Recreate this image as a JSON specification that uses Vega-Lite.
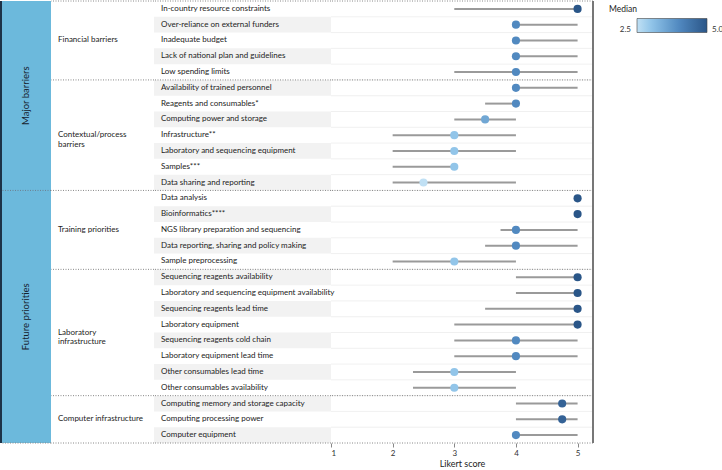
{
  "$schema": "https://vega.github.io/schema/vega-lite/v6.json",
  "padding": {"left": 0, "top": 0, "right": 0, "bottom": 1},
  "bounds": "flush",
  "spacing": 0,
  "config": {"view": {"stroke": null}, "font": "Lato", "text": {"font": "Lato"}},
  "datasets": {
    "items": [
      {"section": "Major barriers", "group": "Financial barriers", "item": "In-country resource constraints", "low": 3, "median": 5, "high": 5},
      {"section": "Major barriers", "group": "Financial barriers", "item": "Over-reliance on external funders", "low": 4, "median": 4, "high": 5},
      {"section": "Major barriers", "group": "Financial barriers", "item": "Inadequate budget", "low": 4, "median": 4, "high": 5},
      {"section": "Major barriers", "group": "Financial barriers", "item": "Lack of national plan and guidelines", "low": 4, "median": 4, "high": 5},
      {"section": "Major barriers", "group": "Financial barriers", "item": "Low spending limits", "low": 3, "median": 4, "high": 5},
      {"section": "Major barriers", "group": "Contextual/process barriers", "item": "Availability of trained personnel", "low": 4, "median": 4, "high": 5},
      {"section": "Major barriers", "group": "Contextual/process barriers", "item": "Reagents and consumables*", "low": 3.5, "median": 4, "high": 4},
      {"section": "Major barriers", "group": "Contextual/process barriers", "item": "Computing power and storage", "low": 3, "median": 3.5, "high": 4},
      {"section": "Major barriers", "group": "Contextual/process barriers", "item": "Infrastructure**", "low": 2, "median": 3, "high": 4},
      {"section": "Major barriers", "group": "Contextual/process barriers", "item": "Laboratory and sequencing equipment", "low": 2, "median": 3, "high": 4},
      {"section": "Major barriers", "group": "Contextual/process barriers", "item": "Samples***", "low": 2, "median": 3, "high": 3},
      {"section": "Major barriers", "group": "Contextual/process barriers", "item": "Data sharing and reporting", "low": 2, "median": 2.5, "high": 4},
      {"section": "Future priorities", "group": "Training priorities", "item": "Data analysis", "low": 5, "median": 5, "high": 5},
      {"section": "Future priorities", "group": "Training priorities", "item": "Bioinformatics****", "low": 5, "median": 5, "high": 5},
      {"section": "Future priorities", "group": "Training priorities", "item": "NGS library preparation and sequencing", "low": 3.75, "median": 4, "high": 5},
      {"section": "Future priorities", "group": "Training priorities", "item": "Data reporting, sharing and policy making", "low": 3.5, "median": 4, "high": 5},
      {"section": "Future priorities", "group": "Training priorities", "item": "Sample preprocessing", "low": 2, "median": 3, "high": 4},
      {"section": "Future priorities", "group": "Laboratory infrastructure", "item": "Sequencing reagents availability", "low": 4, "median": 5, "high": 5},
      {"section": "Future priorities", "group": "Laboratory infrastructure", "item": "Laboratory and sequencing equipment availability", "low": 4, "median": 5, "high": 5},
      {"section": "Future priorities", "group": "Laboratory infrastructure", "item": "Sequencing reagents lead time", "low": 3.5, "median": 5, "high": 5},
      {"section": "Future priorities", "group": "Laboratory infrastructure", "item": "Laboratory equipment", "low": 3, "median": 5, "high": 5},
      {"section": "Future priorities", "group": "Laboratory infrastructure", "item": "Sequencing reagents cold chain", "low": 3, "median": 4, "high": 5},
      {"section": "Future priorities", "group": "Laboratory infrastructure", "item": "Laboratory equipment lead time", "low": 3, "median": 4, "high": 5},
      {"section": "Future priorities", "group": "Laboratory infrastructure", "item": "Other consumables lead time", "low": 2.33, "median": 3, "high": 4},
      {"section": "Future priorities", "group": "Laboratory infrastructure", "item": "Other consumables availability", "low": 2.33, "median": 3, "high": 4},
      {"section": "Future priorities", "group": "Computer infrastructure", "item": "Computing memory and storage capacity", "low": 4, "median": 4.75, "high": 5},
      {"section": "Future priorities", "group": "Computer infrastructure", "item": "Computing processing power", "low": 4, "median": 4.75, "high": 5},
      {"section": "Future priorities", "group": "Computer infrastructure", "item": "Computer equipment", "low": 4, "median": 4, "high": 5}
    ],
    "labels": [
      {"level": "section", "label": "Major barriers", "anchor": "Reagents and consumables*", "rows": 12},
      {"level": "section", "label": "Future priorities", "anchor": "Laboratory equipment", "rows": 16},
      {"level": "group", "label": "Financial barriers", "anchor": "Inadequate budget", "rows": 5},
      {"level": "group", "label": "Contextual/process\nbarriers", "anchor": "Infrastructure**", "rows": 7},
      {"level": "group", "label": "Training priorities", "anchor": "NGS library preparation and sequencing", "rows": 5},
      {"level": "group", "label": "Laboratory\ninfrastructure", "anchor": "Sequencing reagents cold chain", "rows": 8},
      {"level": "group", "label": "Computer infrastructure", "anchor": "Computing processing power", "rows": 3}
    ]
  },
  "hconcat": [
    {
      "width": 50,
      "height": 442,
      "view": {"fill": "#6cb9dc", "stroke": null},
      "data": {"name": "items"},
      "layer": [
        {
          "mark": {"type": "rule", "color": "#1d3247", "strokeWidth": 2},
          "encoding": {"x": {"value": 0}}
        },
        {
          "transform": [
            {"window": [{"op": "row_number", "as": "k"}], "groupby": ["section"]},
            {"filter": "datum.k == 1 && datum.section != 'Major barriers'"}
          ],
          "mark": {"type": "rule", "color": "#6d7f8f", "strokeDash": [1, 1.5], "strokeWidth": 1},
          "encoding": {
            "y": {"field": "item", "type": "nominal", "bandPosition": 0, "axis": null, "scale": {"type": "band", "paddingInner": 0, "paddingOuter": 0, "domain": ["In-country resource constraints","Over-reliance on external funders","Inadequate budget","Lack of national plan and guidelines","Low spending limits","Availability of trained personnel","Reagents and consumables*","Computing power and storage","Infrastructure**","Laboratory and sequencing equipment","Samples***","Data sharing and reporting","Data analysis","Bioinformatics****","NGS library preparation and sequencing","Data reporting, sharing and policy making","Sample preprocessing","Sequencing reagents availability","Laboratory and sequencing equipment availability","Sequencing reagents lead time","Laboratory equipment","Sequencing reagents cold chain","Laboratory equipment lead time","Other consumables lead time","Other consumables availability","Computing memory and storage capacity","Computing processing power","Computer equipment"]}}
          }
        },
        {
          "transform": [
            {"window": [{"op": "row_number", "as": "k"}]},
            {"joinaggregate": [{"op": "count", "as": "n"}]},
            {"filter": "datum.k == datum.n"}
          ],
          "mark": {"type": "rule", "color": "#888888", "strokeDash": [1, 1.5], "strokeWidth": 1},
          "encoding": {"y": {"field": "item", "type": "nominal", "bandPosition": 1}}
        },
        {
          "data": {"name": "labels"},
          "transform": [{"filter": "datum.level == 'section'"}],
          "mark": {"type": "text", "angle": 270, "fontSize": 9.5, "color": "#16222e"},
          "encoding": {
            "y": {"field": "anchor", "type": "nominal", "bandPosition": 0},
            "text": {"field": "label"}
          }
        }
      ]
    },
    {
      "width": 103,
      "height": 442,
      "data": {"name": "items"},
      "layer": [
        {
          "transform": [
            {"window": [{"op": "row_number", "as": "k"}], "groupby": ["group"]},
            {"filter": "datum.k == 1"}
          ],
          "mark": {"type": "rule", "color": "#888888", "strokeDash": [1, 1.5], "strokeWidth": 1},
          "encoding": {
            "y": {"field": "item", "type": "nominal", "bandPosition": 0, "axis": null, "scale": {"type": "band", "paddingInner": 0, "paddingOuter": 0, "domain": ["In-country resource constraints","Over-reliance on external funders","Inadequate budget","Lack of national plan and guidelines","Low spending limits","Availability of trained personnel","Reagents and consumables*","Computing power and storage","Infrastructure**","Laboratory and sequencing equipment","Samples***","Data sharing and reporting","Data analysis","Bioinformatics****","NGS library preparation and sequencing","Data reporting, sharing and policy making","Sample preprocessing","Sequencing reagents availability","Laboratory and sequencing equipment availability","Sequencing reagents lead time","Laboratory equipment","Sequencing reagents cold chain","Laboratory equipment lead time","Other consumables lead time","Other consumables availability","Computing memory and storage capacity","Computing processing power","Computer equipment"]}}
          }
        },
        {
          "transform": [
            {"window": [{"op": "row_number", "as": "k"}]},
            {"joinaggregate": [{"op": "count", "as": "n"}]},
            {"filter": "datum.k == datum.n"}
          ],
          "mark": {"type": "rule", "color": "#888888", "strokeDash": [1, 1.5], "strokeWidth": 1},
          "encoding": {"y": {"field": "item", "type": "nominal", "bandPosition": 1}}
        },
        {
          "data": {"name": "labels"},
          "transform": [{"filter": "datum.level == 'group' && datum.rows % 2 == 1"}],
          "mark": {"type": "text", "align": "left", "baseline": "middle", "dx": 7, "fontSize": 8, "lineHeight": 9.5, "lineBreak": "\n", "color": "#222222"},
          "encoding": {
            "x": {"value": 0},
            "y": {"field": "anchor", "type": "nominal", "bandPosition": 0.5},
            "text": {"field": "label"}
          }
        },
        {
          "data": {"name": "labels"},
          "transform": [{"filter": "datum.level == 'group' && datum.rows % 2 == 0"}],
          "mark": {"type": "text", "align": "left", "baseline": "middle", "dx": 7, "fontSize": 8, "lineHeight": 9.5, "lineBreak": "\n", "color": "#222222"},
          "encoding": {
            "x": {"value": 0},
            "y": {"field": "anchor", "type": "nominal", "bandPosition": 0},
            "text": {"field": "label"}
          }
        }
      ]
    },
    {
      "width": 177,
      "height": 442,
      "data": {"name": "items"},
      "layer": [
        {
          "transform": [
            {"window": [{"op": "row_number", "as": "k"}]},
            {"filter": "datum.k % 2 == 0"}
          ],
          "mark": {"type": "rect", "color": "#f2f2f2"},
          "encoding": {
            "y": {"field": "item", "type": "nominal", "axis": null, "scale": {"type": "band", "paddingInner": 0, "paddingOuter": 0, "domain": ["In-country resource constraints","Over-reliance on external funders","Inadequate budget","Lack of national plan and guidelines","Low spending limits","Availability of trained personnel","Reagents and consumables*","Computing power and storage","Infrastructure**","Laboratory and sequencing equipment","Samples***","Data sharing and reporting","Data analysis","Bioinformatics****","NGS library preparation and sequencing","Data reporting, sharing and policy making","Sample preprocessing","Sequencing reagents availability","Laboratory and sequencing equipment availability","Sequencing reagents lead time","Laboratory equipment","Sequencing reagents cold chain","Laboratory equipment lead time","Other consumables lead time","Other consumables availability","Computing memory and storage capacity","Computing processing power","Computer equipment"]}}
          }
        },
        {
          "transform": [
            {"window": [{"op": "row_number", "as": "k"}], "groupby": ["group"]},
            {"filter": "datum.k == 1"}
          ],
          "mark": {"type": "rule", "color": "#888888", "strokeDash": [1, 1.5], "strokeWidth": 1},
          "encoding": {"y": {"field": "item", "type": "nominal", "bandPosition": 0}}
        },
        {
          "transform": [
            {"window": [{"op": "row_number", "as": "k"}]},
            {"joinaggregate": [{"op": "count", "as": "n"}]},
            {"filter": "datum.k == datum.n"}
          ],
          "mark": {"type": "rule", "color": "#888888", "strokeDash": [1, 1.5], "strokeWidth": 1},
          "encoding": {"y": {"field": "item", "type": "nominal", "bandPosition": 1}}
        },
        {
          "mark": {"type": "text", "align": "left", "baseline": "middle", "dx": 7, "fontSize": 8, "color": "#222222"},
          "encoding": {
            "x": {"value": 0},
            "y": {"field": "item", "type": "nominal"},
            "text": {"field": "item"}
          }
        }
      ]
    },
    {
      "width": 262,
      "height": 442,
      "data": {"name": "items"},
      "layer": [
        {
          "transform": [
            {"window": [{"op": "row_number", "as": "k"}]},
            {"filter": "datum.k > 1"}
          ],
          "mark": {"type": "rule", "color": "#ececec", "strokeWidth": 0.8},
          "encoding": {
            "y": {"field": "item", "type": "nominal", "bandPosition": 0, "axis": null, "scale": {"type": "band", "paddingInner": 0, "paddingOuter": 0, "domain": ["In-country resource constraints","Over-reliance on external funders","Inadequate budget","Lack of national plan and guidelines","Low spending limits","Availability of trained personnel","Reagents and consumables*","Computing power and storage","Infrastructure**","Laboratory and sequencing equipment","Samples***","Data sharing and reporting","Data analysis","Bioinformatics****","NGS library preparation and sequencing","Data reporting, sharing and policy making","Sample preprocessing","Sequencing reagents availability","Laboratory and sequencing equipment availability","Sequencing reagents lead time","Laboratory equipment","Sequencing reagents cold chain","Laboratory equipment lead time","Other consumables lead time","Other consumables availability","Computing memory and storage capacity","Computing processing power","Computer equipment"]}}
          }
        },
        {
          "transform": [
            {"window": [{"op": "row_number", "as": "k"}], "groupby": ["group"]},
            {"filter": "datum.k == 1"}
          ],
          "mark": {"type": "rule", "color": "#888888", "strokeDash": [1, 1.5], "strokeWidth": 1},
          "encoding": {"y": {"field": "item", "type": "nominal", "bandPosition": 0}}
        },
        {
          "transform": [
            {"window": [{"op": "row_number", "as": "k"}]},
            {"joinaggregate": [{"op": "count", "as": "n"}]},
            {"filter": "datum.k == datum.n"}
          ],
          "mark": {"type": "rule", "color": "#888888", "strokeDash": [1, 1.5], "strokeWidth": 1},
          "encoding": {"y": {"field": "item", "type": "nominal", "bandPosition": 1}}
        },
        {
          "mark": {"type": "rule", "color": "#9a9a9a", "strokeWidth": 2},
          "encoding": {
            "y": {"field": "item", "type": "nominal"},
            "x": {"field": "low", "type": "quantitative", "scale": {"domain": [1, 5.25], "nice": false, "zero": false},
              "axis": {"values": [1, 2, 3, 4, 5], "format": "d", "title": "Likert score", "domain": false, "grid": false, "tickSize": 4, "tickColor": "#888888", "labelFontSize": 8, "labelColor": "#333333", "labelPadding": 2, "titleFontSize": 9, "titleFontWeight": "normal", "titleColor": "#222222", "titlePadding": 2}},
            "x2": {"field": "high"}
          }
        },
        {
          "mark": {"type": "rule", "color": "#777777", "strokeWidth": 1.5},
          "encoding": {"x": {"datum": 5.25, "type": "quantitative"}}
        },
        {
          "mark": {"type": "circle", "size": 66, "opacity": 1},
          "encoding": {
            "y": {"field": "item", "type": "nominal"},
            "x": {"field": "median", "type": "quantitative"},
            "color": {"field": "median", "type": "quantitative",
              "scale": {"domain": [2.5, 3, 4, 5], "range": ["#c0e0f4", "#92c5e9", "#5189c0", "#2a5688"]},
              "legend": {"title": "Median", "orient": "right", "direction": "horizontal", "gradientLength": 70, "gradientThickness": 14, "values": [2.5, 5], "format": ".1f",
                "labelOffset": -7, "labelBaseline": "middle", "labelFontSize": 8, "labelColor": "#333333", "titleFontSize": 8.5, "titleFontWeight": "normal", "titleColor": "#222222", "offset": 11, "padding": 4, "gradientStrokeColor": "#444444", "gradientStrokeWidth": 0.6,
                "encoding": {
                  "labels": {"align": {"value": {"expr": "datum.value < 3.75 ? 'right' : 'left'"}}, "dx": {"value": {"expr": "datum.value < 3.75 ? -6 : 5"}}},
                  "title": {"dx": {"value": -28}}
                }
              }
            }
          }
        }
      ]
    }
  ]
}
